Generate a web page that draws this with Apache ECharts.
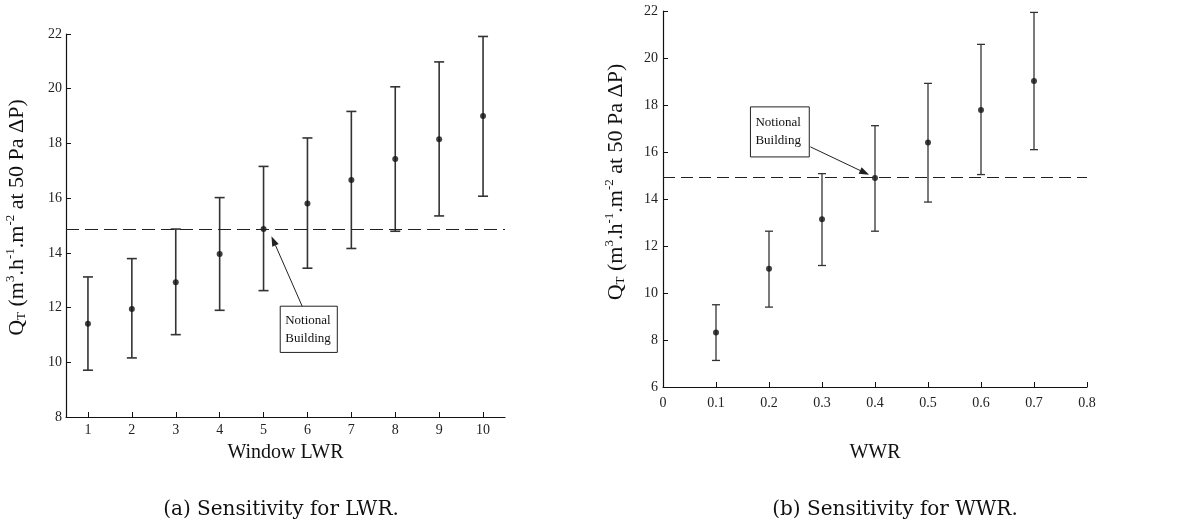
<!DOCTYPE html>
<html><head><meta charset="utf-8">
<script src="https://cdn.jsdelivr.net/npm/echarts@6/dist/echarts.min.js"></script>
<style>html,body{margin:0;padding:0;background:#fff}#c{width:1179px;height:523px}</style>
</head><body><div id="c"></div>
<script>
// ---- data ----
const lwrX     = [1, 2, 3, 4, 5, 6, 7, 8, 9, 10];
const lwrMean  = [11.41, 11.95, 12.93, 13.96, 14.87, 15.80, 16.66, 17.43, 18.15, 19.00];
const lwrLow   = [9.71, 10.16, 11.01, 11.90, 12.62, 13.44, 14.16, 14.79, 15.35, 16.07];
const lwrHigh  = [13.12, 13.79, 14.87, 16.02, 17.16, 18.20, 19.17, 20.07, 20.98, 21.91];
const lwrNotional = 14.87;
const lwrXTicks = [1, 2, 3, 4, 5, 6, 7, 8, 9, 10];

const wwrX     = [0.1, 0.2, 0.3, 0.4, 0.5, 0.6, 0.7];
const wwrMean  = [8.32, 11.03, 13.14, 14.89, 16.40, 17.79, 19.02];
const wwrLow   = [7.13, 9.40, 11.17, 12.63, 13.87, 15.04, 16.10];
const wwrHigh  = [9.50, 12.63, 15.08, 17.12, 18.92, 20.58, 21.94];
const wwrNotional = 14.91;

const noteText = 'Notional\nBuilding';
const captionA = '(a) Sensitivity for LWR.';
const captionB = '(b) Sensitivity for WWR.';
const xNameA = 'Window LWR';
const xNameB = 'WWR';

// ---- helpers ----
const FONT = 'Liberation Serif';
const INK = '#222';
const yName = '{n|Q}{sub|T}{n| (m}{sup|3}{n|.h}{sup|-1}{n|.m}{sup|-2}{n| at 50 Pa ΔP)}';
function yNameStyle(pad){
  return {
    fontFamily: FONT, color: '#111', padding: [0,0,0,pad],
    rich: {
      n:   {fontFamily: FONT, fontSize: 22, color:'#111', lineHeight: 26, verticalAlign:'bottom'},
      sup: {fontFamily: FONT, fontSize: 13, color:'#111', lineHeight: 26, verticalAlign:'top', padding:[2,0,0,0]},
      sub: {fontFamily: FONT, fontSize: 13, color:'#111', lineHeight: 26, verticalAlign:'bottom'}
    }
  };
}
function errRender(lw, cap){
  return function(params, api){
    const x = api.value(0), lo = api.value(1), hi = api.value(2);
    const a = api.coord([x, lo]), b = api.coord([x, hi]);
    const st = {stroke: '#333', lineWidth: lw, fill: null};
    return {type: 'group', children: [
      {type:'line', shape:{x1:a[0], y1:a[1], x2:b[0], y2:b[1]}, style: st},
      {type:'line', shape:{x1:a[0]-cap, y1:a[1], x2:a[0]+cap, y2:a[1]}, style: st},
      {type:'line', shape:{x1:b[0]-cap, y1:b[1], x2:b[0]+cap, y2:b[1]}, style: st}
    ]};
  };
}
const axisLineStyle = {show: true, lineStyle: {color: '#111', width: 1.2}};
const tickStyle = {show: true, inside: true, length: 5, lineStyle: {color: '#111', width: 1}};
const labelStyle = {fontFamily: FONT, fontSize: 14, color: '#222'};

const chart = echarts.init(document.getElementById('c'), null, {renderer: 'canvas'});
const option = {
  animation: false,
  backgroundColor: '#fff',
  grid: [
    {left: 66, top: 34, width: 439, height: 383},
    {left: 663, top: 11, width: 424, height: 376}
  ],
  xAxis: [
    {gridIndex: 0, type: 'value', min: 0.5, max: 10.5,
     name: xNameA, nameLocation: 'middle', nameGap: 26,
     nameTextStyle: {fontFamily: FONT, fontSize: 20, color: '#111'},
     axisLine: axisLineStyle,
     axisTick: Object.assign({customValues: lwrXTicks}, tickStyle),
     axisLabel: Object.assign({customValues: lwrXTicks, margin: 6}, labelStyle),
     splitLine: {show: false}},
    {gridIndex: 1, type: 'value', min: 0, max: 0.8, interval: 0.1,
     name: xNameB, nameLocation: 'middle', nameGap: 56,
     nameTextStyle: {fontFamily: FONT, fontSize: 20, color: '#111'},
     axisLine: axisLineStyle, axisTick: tickStyle,
     axisLabel: Object.assign({margin: 9, showMinLabel: true, showMaxLabel: true,
        formatter: v => String(Math.round(v * 10) / 10)}, labelStyle),
     splitLine: {show: false}}
  ],
  yAxis: [
    {gridIndex: 0, type: 'value', min: 8, max: 22, interval: 2,
     name: yName, nameLocation: 'middle', nameGap: 38,
     nameTextStyle: yNameStyle(16),
     axisLine: axisLineStyle, axisTick: tickStyle,
     axisLabel: Object.assign({margin: 4}, labelStyle),
     splitLine: {show: false}},
    {gridIndex: 1, type: 'value', min: 6, max: 22, interval: 2,
     name: yName, nameLocation: 'middle', nameGap: 36,
     nameTextStyle: yNameStyle(34),
     axisLine: axisLineStyle, axisTick: tickStyle,
     axisLabel: Object.assign({margin: 5}, labelStyle),
     splitLine: {show: false}}
  ],
  series: [
    {type: 'custom', xAxisIndex: 0, yAxisIndex: 0, renderItem: errRender(1.6, 5),
     data: lwrX.map((x, i) => [x, lwrLow[i], lwrHigh[i]]), z: 3,
     markLine: {silent: true, symbol: 'none', label: {show: false},
       lineStyle: {color: INK, width: 1.2, type: [13, 6]},
       data: [{yAxis: lwrNotional}]}},
    {type: 'scatter', xAxisIndex: 0, yAxisIndex: 0, symbol: 'circle', symbolSize: 6,
     itemStyle: {color: '#111'}, data: lwrX.map((x, i) => [x, lwrMean[i]]), z: 4},
    {type: 'custom', xAxisIndex: 1, yAxisIndex: 1, renderItem: errRender(1.3, 4),
     data: wwrX.map((x, i) => [x, wwrLow[i], wwrHigh[i]]), z: 3,
     markLine: {silent: true, symbol: 'none', label: {show: false},
       lineStyle: {color: INK, width: 1.2, type: [12, 6]},
       data: [{yAxis: wwrNotional}]}},
    {type: 'scatter', xAxisIndex: 1, yAxisIndex: 1, symbol: 'circle', symbolSize: 6,
     itemStyle: {color: '#111'}, data: wwrX.map((x, i) => [x, wwrMean[i]]), z: 4}
  ]
};
chart.setOption(option);

// ---- annotations (anchored in data space) ----
function P(g, v){ return chart.convertToPixel({gridIndex: g}, v); }
function note(g, boxTL, boxBR, tail, tip){
  const a = P(g, boxTL), b = P(g, boxBR), t0 = P(g, tail), t1 = P(g, tip);
  const ang = Math.atan2(t1[1] - t0[1], t1[0] - t0[0]);
  const L = 10, W = 3.5;
  const bx = t1[0] - L * Math.cos(ang), by = t1[1] - L * Math.sin(ang);
  const nx = -Math.sin(ang) * W, ny = Math.cos(ang) * W;
  return [
    {type: 'rect', shape: {x: a[0], y: a[1], width: b[0] - a[0], height: b[1] - a[1]},
     style: {fill: '#fff', stroke: '#222', lineWidth: 1}, z: 10},
    {type: 'text', x: a[0] + 5, y: (a[1] + b[1]) / 2, z: 11,
     style: {text: noteText, fontFamily: FONT, fontSize: 13, lineHeight: 18, fill: '#111',
             verticalAlign: 'middle', align: 'left'}},
    {type: 'line', shape: {x1: t0[0], y1: t0[1], x2: bx, y2: by},
     style: {stroke: '#222', lineWidth: 1}, z: 10},
    {type: 'polygon', shape: {points: [[t1[0], t1[1]], [bx + nx, by + ny], [bx - nx, by - ny]]},
     style: {fill: '#222'}, z: 10}
  ];
}
const graphics = []
  .concat(note(0, [5.38, 12.05], [6.68, 10.36], [5.88, 12.05], [5.18, 14.61]))
  .concat(note(1, [0.165, 17.92], [0.276, 15.79], [0.278, 16.22], [0.389, 15.03]));
graphics.push(
  {type: 'text', x: 281, y: 510, style: {text: captionA, fontFamily: 'DejaVu Serif', fontSize: 20,
    fill: '#111', align: 'center', verticalAlign: 'middle'}},
  {type: 'text', x: 895, y: 510, style: {text: captionB, fontFamily: 'DejaVu Serif', fontSize: 20,
    fill: '#111', align: 'center', verticalAlign: 'middle'}}
);
chart.setOption({graphic: graphics});
</script></body></html>
